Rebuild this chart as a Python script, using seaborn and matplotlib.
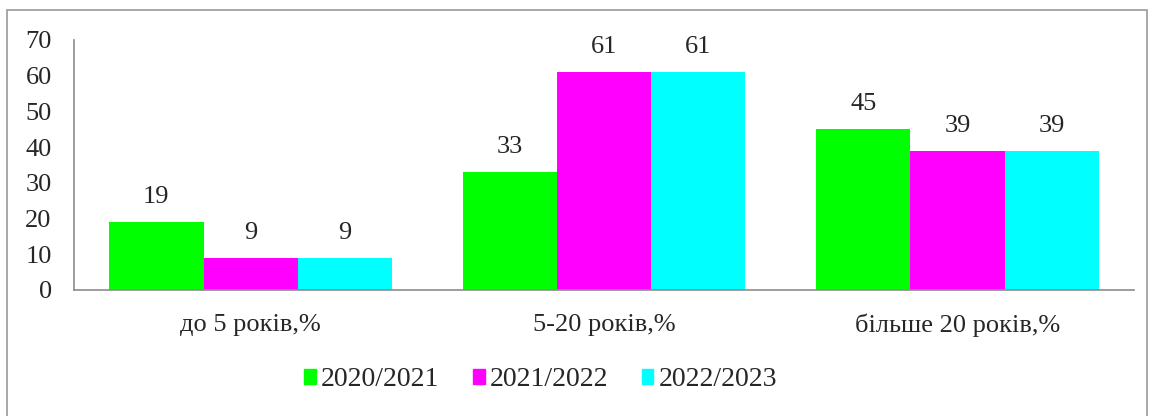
import matplotlib.pyplot as plt
import matplotlib.patches as mpatches
import pandas as pd
import seaborn as sns

categories = ['до 5 років,%', '5-20 років,%', 'більше 20 років,%']
years = ['2020/2021', '2021/2022', '2022/2023']
values_2020 = [19, 33, 45]
values_2021 = [9, 61, 39]
values_2022 = [9, 61, 39]
colors = ['#00FF00', '#FF00FF', '#00FFFF']

sns.set_style('white')
plt.rcParams['font.family'] = ['Liberation Serif', 'DejaVu Serif']

df = pd.DataFrame({
    'category': categories * 3,
    'year': [years[0]] * 3 + [years[1]] * 3 + [years[2]] * 3,
    'value': values_2020 + values_2021 + values_2022,
})

fig = plt.figure(figsize=(11.55, 4.16), dpi=100)
ax = fig.add_axes([0.064, 0.303, 0.918, 0.601])
sns.barplot(data=df, x='category', y='value', hue='year', palette=colors,
            width=0.8, saturation=1, linewidth=0, ax=ax, legend=False)

for container in ax.containers:
    ax.bar_label(container, padding=10, fontsize=19)

ax.set_ylim(0, 70)
ax.set_yticks(range(0, 71, 10))
ax.set_xlim(-0.5, 2.5)
ax.set(xlabel='', ylabel='')
ax.tick_params(axis='both', length=0, labelsize=19)
ax.tick_params(axis='x', pad=17)
ax.tick_params(axis='y', pad=16)
for side in ['top', 'right']:
    ax.spines[side].set_visible(False)
for side in ['left', 'bottom']:
    ax.spines[side].set_color('#8c8c8c')
    ax.spines[side].set_linewidth(1.2)

handles = [mpatches.Patch(color=c, label=y) for c, y in zip(colors, years)]
fig.legend(handles=handles, loc='center', bbox_to_anchor=(0.468, 0.087), ncol=3,
           frameon=False, fontsize=20, handlelength=0.43, handleheight=0.43,
           handletextpad=0.18, columnspacing=1.2)

border = mpatches.Rectangle((7 / 1155, -0.05), 1140 / 1155, 1.05 - 10 / 416,
                            transform=fig.transFigure, fill=False,
                            edgecolor='#999999', linewidth=1.2)
fig.patches.append(border)

fig.savefig('out.png', dpi=100)
